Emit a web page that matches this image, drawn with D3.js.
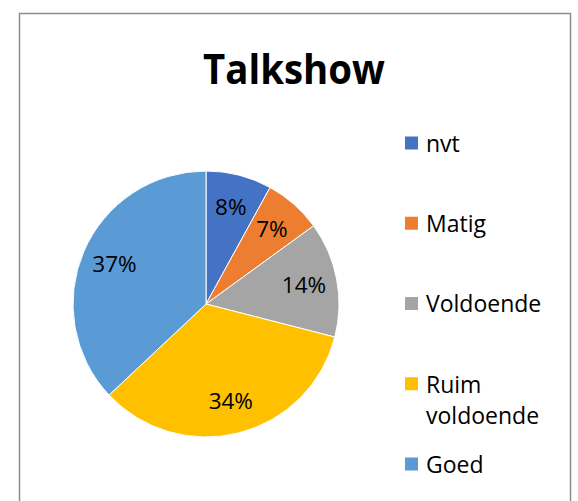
<!DOCTYPE html>
<meta charset="utf-8" />
<style>
  html,
  body {
    margin: 0;
    padding: 0;
    background: #fff;
    font-family: 'Open Sans', sans-serif;
  }
</style>
<script src="https://d3js.org/d3.v7.min.js"></script>

<div id="chart"></div>

<script>
  // data
  const categories = ['nvt', 'Matig', 'Voldoende', 'Ruim voldoende', 'Goed'];
  const values = [8, 7, 14, 34, 37];
  const colors = ['#4472C4', '#ED7D31', '#A5A5A5', '#FFC000', '#5B9BD5'];
  // legend text, split into lines like in the original
  const legendLines = [['nvt'], ['Matig'], ['Voldoende'], ['Ruim', 'voldoende'], ['Goed']];

  const width = 578;
  const height = 501;

  const svg = d3
    .select('#chart')
    .append('svg')
    .attr('width', width)
    .attr('height', height);

  // chart area border (runs off the bottom)
  svg
    .append('rect')
    .attr('x', 19.5)
    .attr('y', 13.5)
    .attr('width', 551)
    .attr('height', 520)
    .attr('fill', '#fff')
    .attr('stroke', '#8c8c8c')
    .attr('stroke-width', 1.5);

  // title
  svg
    .append('text')
    .attr('x', 294)
    .attr('y', 84)
    .attr('text-anchor', 'middle')
    .style('font-size', '41px')
    .style('font-weight', 'bold')
    .attr('textLength', 182)
    .attr('lengthAdjust', 'spacingAndGlyphs')
    .text('Talkshow');

  const color = d3.scaleOrdinal().domain(categories).range(colors);

  const cx = 206;
  const cy = 304;
  const radius = 133;

  const pie = d3
    .pie()
    .sort(null)
    .value((d) => d.value);

  const data = categories.map((c, i) => ({ name: c, value: values[i] }));
  const arcs = pie(data);

  const arc = d3.arc().innerRadius(0).outerRadius(radius);
  const labelArc = d3
    .arc()
    .innerRadius(radius * 0.75)
    .outerRadius(radius * 0.75);

  const g = svg
    .append('g')
    .attr('transform', 'translate(' + cx + ',' + cy + ')');

  g.selectAll('path')
    .data(arcs)
    .enter()
    .append('path')
    .attr('d', arc)
    .attr('fill', (d) => color(d.data.name))
    .attr('stroke', '#fff')
    .attr('stroke-width', 1);

  const total = d3.sum(values);
  g.selectAll('text')
    .data(arcs)
    .enter()
    .append('text')
    .attr('transform', (d) => 'translate(' + labelArc.centroid(d) + ')')
    .attr('text-anchor', 'middle')
    .attr('dy', '0.36em')
    .style('font-size', '22.5px')
    .attr('fill', '#000')
    .text((d) => Math.round((d.data.value / total) * 100) + '%');

  // legend
  const legendY = d3.scalePoint().domain(categories).range([143, 464]);

  const legend = svg
    .selectAll('.legend')
    .data(categories)
    .enter()
    .append('g')
    .attr('class', 'legend')
    .attr('transform', (d) => 'translate(405,' + legendY(d) + ')');

  legend
    .append('rect')
    .attr('x', 0)
    .attr('y', -6.5)
    .attr('width', 13)
    .attr('height', 13)
    .attr('fill', (d) => color(d));

  legend
    .append('text')
    .attr('x', 21)
    .attr('y', 0)
    .style('font-size', '23px')
    .attr('fill', '#000')
    .selectAll('tspan')
    .data((d, i) => legendLines[i])
    .enter()
    .append('tspan')
    .attr('x', 21)
    .attr('dy', (d, i) => (i === 0 ? '0.38em' : '32px'))
    .text((d) => d);
</script>
